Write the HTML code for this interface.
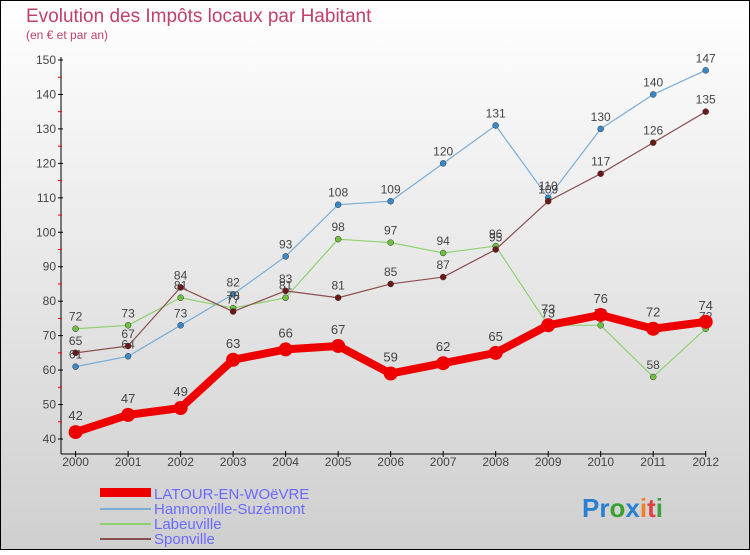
<!DOCTYPE html>
<html><head><meta charset="utf-8"><style>
body{margin:0;}
#c{width:750px;height:550px;position:relative;font-family:"Liberation Sans",sans-serif;}
</style></head><body>
<div id="c">
<svg id="s" width="750" height="550" xmlns="http://www.w3.org/2000/svg">
<defs><linearGradient id="bg" x1="0" y1="0" x2="0" y2="1"><stop offset="0" stop-color="#ffffff"/><stop offset="1" stop-color="#cfcfcf"/></linearGradient></defs>
<rect x="0.5" y="0.5" width="749" height="549" fill="url(#bg)" stroke="#000"/>
<text x="26" y="22" font-size="19" fill="#c0406a">Evolution des Impôts locaux par Habitant</text>
<text x="26" y="39" font-size="12" fill="#c0406a">(en € et par an)</text>
<g id="axes"></g><g id="series"></g>
<g>
<rect x="100" y="488" width="51" height="9" fill="#e00"/>
<text x="154" y="499" font-size="15" fill="#6a6aff">LATOUR-EN-WOëVRE</text>
<line x1="100" y1="509" x2="151" y2="509" stroke="#7aaed6" stroke-width="2"/>
<text x="154" y="514" font-size="15" fill="#6a6aff">Hannonville-Suzémont</text>
<line x1="100" y1="524" x2="151" y2="524" stroke="#90d070" stroke-width="2"/>
<text x="154" y="529" font-size="15" fill="#6a6aff">Labeuville</text>
<line x1="100" y1="539" x2="151" y2="539" stroke="#8a5050" stroke-width="2"/>
<text x="154" y="544" font-size="15" fill="#6a6aff">Sponville</text>
</g>
<text x="582" y="517" font-size="26" font-weight="bold"><tspan fill="#2a7fd0">Pr</tspan><tspan fill="#3aa030">o</tspan><tspan fill="#2a7fd0">x</tspan><tspan fill="#f08020">i</tspan><tspan fill="#e04040">t</tspan><tspan fill="#40a040">i</tspan></text>
</svg>
</div>
<script>
const years=["2000","2001","2002","2003","2004","2005","2006","2007","2008","2009","2010","2011","2012"];
const yTicks=[40,50,60,70,80,90,100,110,120,130,140,150];
const latour=[42,47,49,63,66,67,59,62,65,73,76,72,74];
const hannonville=[61,64,73,82,93,108,109,120,131,110,130,140,147];
const labeuville=[72,73,81,78,81,98,97,94,96,73,73,58,72];
const sponville=[65,67,84,77,83,81,85,87,95,109,117,126,135];
const NS="http://www.w3.org/2000/svg";
function X(i){return 75.6+i*(705.7-75.6)/(years.length-1);}
function Y(v){return 439-(v-40)*(439-60)/110;}
function mk(t,a,p){const e=document.createElementNS(NS,t);for(const k in a)e.setAttribute(k,a[k]);p.appendChild(e);return e;}
const ax=document.getElementById('axes'),sg=document.getElementById('series');
let l=mk('line',{x1:61,y1:57,x2:61,y2:454,stroke:'#000'},ax);


l=mk('line',{x1:61,y1:454,x2:706,y2:454,stroke:'#000'},ax);


yTicks.forEach((v,i)=>{
 mk('line',{x1:58,y1:Y(v),x2:63,y2:Y(v),stroke:'#000'},ax);
 if(i<yTicks.length-1)mk('line',{x1:58,y1:Y(v+5),x2:62,y2:Y(v+5),stroke:'#e00'},ax);
 const t=mk('text',{x:56,y:Y(v)+4,'font-size':12,fill:'#444','text-anchor':'end'},ax);t.textContent=v;
 
 
});
years.forEach((y,i)=>{
 mk('line',{x1:X(i),y1:451,x2:X(i),y2:457,stroke:'#000'},ax);
 const t=mk('text',{x:X(i),y:466,'font-size':12,fill:'#444','text-anchor':'middle'},ax);t.textContent=y;
 
 
});
function series(d,col,dot,w,r,name,fs){
 const g=mk('g',{},sg);
 
 
 mk('polyline',{points:d.map((v,i)=>X(i)+','+Y(v)).join(' '),fill:'none',stroke:col,'stroke-width':w,'stroke-linejoin':'round'},g);
 d.forEach((v,i)=>{
  const c=mk('circle',{cx:X(i),cy:Y(v),r:r,fill:dot,stroke:'#333','stroke-width':r>4?0:0.5},g);
  
  
  const t=mk('text',{x:X(i),y:Y(v)-(r>4?12:8),'font-size':fs,fill:'#444','text-anchor':'middle'},g);t.textContent=v;
 });
}
series(hannonville,'#7aaed6','#3a88c8',1.2,3,'hannonville',12);
series(labeuville,'#90d070','#70c040',1.2,3,'labeuville',12);
series(sponville,'#8a5050','#6a1818',1.2,3,'sponville',12);
series(latour,'#e00','#e00',8,7,'latour',13);
</script>
</body></html>
